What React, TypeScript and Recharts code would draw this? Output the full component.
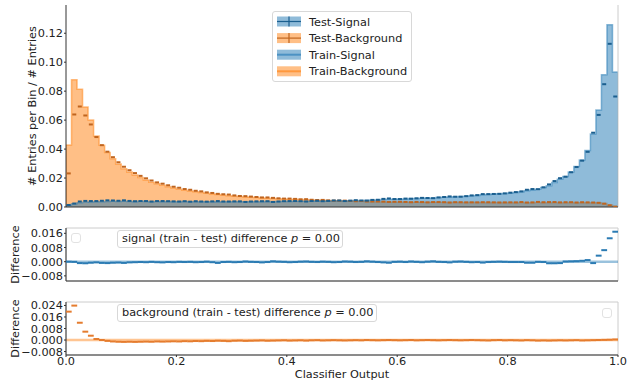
import React from 'react';
import { ComposedChart, Area, Scatter, XAxis, YAxis, ReferenceLine, ReferenceArea } from 'recharts';

// 100 bins on [0, 1], normalised entries per bin
const trainSignal = [
  0.0014, 0.0023, 0.0030, 0.0033, 0.0035, 0.0037, 0.0036, 0.0038, 0.0039, 0.0038,
  0.0039, 0.0038, 0.0037, 0.0039, 0.0038, 0.0037, 0.0038, 0.0037, 0.0038, 0.0036,
  0.0037, 0.0038, 0.0036, 0.0037, 0.0036, 0.0037, 0.0036, 0.0034, 0.0036, 0.0037,
  0.0036, 0.0037, 0.0036, 0.0037, 0.0037, 0.0036, 0.0038, 0.0037, 0.0038, 0.0039,
  0.0038, 0.0039, 0.0040, 0.0039, 0.0040, 0.0041, 0.0040, 0.0041, 0.0042, 0.0043,
  0.0042, 0.0044, 0.0045, 0.0044, 0.0046, 0.0049, 0.0048, 0.0052, 0.0053, 0.0054,
  0.0055, 0.0056, 0.0058, 0.0059, 0.0060, 0.0062, 0.0063, 0.0065, 0.0067, 0.0069,
  0.0071, 0.0072, 0.0074, 0.0077, 0.0080, 0.0084, 0.0087, 0.0089, 0.0091, 0.0093,
  0.0097, 0.0101, 0.0106, 0.0113, 0.0118, 0.0122, 0.0134, 0.0147, 0.0170, 0.0191,
  0.0210, 0.0242, 0.0279, 0.0325, 0.0390, 0.0505, 0.0670, 0.0913, 0.1259, 0.0932,
];

const trainBackground = [
  0.0429, 0.0878, 0.0814, 0.0690, 0.0600, 0.0490, 0.0427, 0.0376, 0.0334, 0.0297,
  0.0265, 0.0242, 0.0221, 0.0203, 0.0187, 0.0171, 0.0160, 0.0150, 0.0140, 0.0131,
  0.0123, 0.0116, 0.0110, 0.0105, 0.0100, 0.0095, 0.0090, 0.0086, 0.0082, 0.0078,
  0.0075, 0.0072, 0.0069, 0.0067, 0.0065, 0.0063, 0.0061, 0.0059, 0.0057, 0.0056,
  0.0054, 0.0053, 0.0051, 0.0050, 0.0048, 0.0047, 0.0046, 0.0044, 0.0043, 0.0042,
  0.0041, 0.0040, 0.0039, 0.0039, 0.0038, 0.0037, 0.0036, 0.0036, 0.0035, 0.0035,
  0.0034, 0.0034, 0.0033, 0.0033, 0.0033, 0.0032, 0.0033, 0.0032, 0.0032, 0.0031,
  0.0032, 0.0031, 0.0031, 0.0032, 0.0031, 0.0031, 0.0030, 0.0031, 0.0031, 0.0030,
  0.0031, 0.0030, 0.0031, 0.0030, 0.0030, 0.0031, 0.0030, 0.0030, 0.0031, 0.0030,
  0.0030, 0.0031, 0.0030, 0.0030, 0.0030, 0.0030, 0.0029, 0.0024, 0.0014, 0.0006,
];

// train - test, per bin
const signalDiff = [
  0.0000, -0.0001, -0.0008, -0.0009, -0.0006, -0.0004, -0.0007, -0.0008, -0.0006, -0.0005,
  -0.0007, -0.0004, -0.0003, -0.0002, -0.0003, -0.0001, -0.0003, -0.0004, -0.0002, -0.0003,
  -0.0001, -0.0002, -0.0001, -0.0003, -0.0002, 0.0000, -0.0003, -0.0007, -0.0002, -0.0001,
  -0.0003, -0.0002, 0.0001, -0.0001, -0.0002, -0.0004, -0.0002, 0.0002, 0.0000, -0.0001,
  -0.0003, -0.0002, 0.0000, 0.0001, -0.0001, -0.0002, 0.0000, -0.0001, -0.0003, -0.0002,
  0.0001, 0.0000, -0.0002, -0.0001, 0.0002, 0.0000, -0.0002, -0.0004, -0.0006, -0.0001,
  0.0000, -0.0002, 0.0001, -0.0001, -0.0003, 0.0000, 0.0002, -0.0001, -0.0002, -0.0004,
  0.0000, 0.0001, -0.0001, -0.0003, -0.0002, -0.0005, -0.0002, -0.0001, 0.0000, -0.0001,
  -0.0002, -0.0002, -0.0002, -0.0006, -0.0006, -0.0001, -0.0002, -0.0009, -0.0009, -0.0008,
  0.0001, 0.0002, 0.0003, 0.0005, 0.0009, -0.0008, 0.0034, 0.0065, 0.0132, 0.0169,
];

const backgroundDiff = [
  0.0197, 0.0239, 0.0120, 0.0058, 0.0030, 0.0007, 0.0000, -0.0006, -0.0010, -0.0012,
  -0.0013, -0.0012, -0.0013, -0.0012, -0.0011, -0.0012, -0.0010, -0.0011, -0.0010, -0.0009,
  -0.0010, -0.0008, -0.0009, -0.0007, -0.0008, -0.0006, -0.0007, -0.0005, -0.0006, -0.0008,
  -0.0005, -0.0004, -0.0006, -0.0005, -0.0004, -0.0003, -0.0005, -0.0004, -0.0003, -0.0002,
  -0.0004, -0.0003, -0.0002, -0.0004, -0.0002, -0.0001, -0.0003, -0.0002, -0.0001, -0.0002,
  -0.0003, -0.0002, -0.0001, -0.0002, 0.0000, -0.0001, -0.0002, -0.0001, 0.0000, -0.0001,
  -0.0002, -0.0001, 0.0000, -0.0002, -0.0001, 0.0000, -0.0001, -0.0002, -0.0001, 0.0000,
  -0.0001, -0.0002, -0.0001, 0.0000, -0.0001, -0.0002, -0.0003, -0.0001, 0.0000, -0.0002,
  -0.0001, -0.0002, -0.0003, -0.0001, -0.0002, -0.0004, -0.0003, -0.0004, -0.0003, -0.0002,
  -0.0003, -0.0002, -0.0001, -0.0003, -0.0002, -0.0001, 0.0000, 0.0001, 0.0002, 0.0004,
];

const histTicks = [0, 0.02, 0.04, 0.06, 0.08, 0.1, 0.12];
const sigDiffTicks = [-0.008, 0, 0.008, 0.016];
const bkgDiffTicks = [-0.008, 0, 0.008, 0.016, 0.024];
const xTicks = [0, 0.2, 0.4, 0.6, 0.8, 1.0];
const legendItems = ['Test-Signal', 'Test-Background', 'Train-Signal', 'Train-Background'];

const NBINS = trainSignal.length;
const BLUE = '#1f77b4';
const ORANGE = '#ff7f0e';
const FONT = '"DejaVu Sans", sans-serif';
const TXT = '#222';
const SPINE = '#333';
const FS = 11.3;
const BIN_PX = 552 / NBINS;

// bin edges for step areas, closed down to zero at both ends
const histRows = [
  { x: 0, sig: 0, bkg: 0 },
  ...trainSignal.map((s, i) => ({ x: i / NBINS, sig: s, bkg: trainBackground[i] })),
  { x: 1, sig: trainSignal[NBINS - 1], bkg: trainBackground[NBINS - 1] },
  { x: 1, sig: 0, bkg: 0 },
];

const testSigPts = trainSignal.map((s, i) => ({ x: (i + 0.5) / NBINS, y: s - signalDiff[i] }));
const testBkgPts = trainBackground.map((b, i) => ({ x: (i + 0.5) / NBINS, y: b - backgroundDiff[i] }));
const sigDiffPts = signalDiff.map((d, i) => ({ x: (i + 0.5) / NBINS, y: d }));
const bkgDiffPts = backgroundDiff.map((d, i) => ({ x: (i + 0.5) / NBINS, y: d }));

const fmt = (digits: number) => (v: number) =>
  (v < -1e-9 ? '\u2212' : '') + Math.abs(v).toFixed(digits);

const tickStyle = { fontSize: FS, fill: TXT, fontFamily: FONT };

const dash = (color: string, w: number) => (props: any) => {
  const { cx, cy } = props;
  if (cx == null || cy == null) return <g />;
  return <rect x={cx - w / 2} y={cy - 1} width={w} height={2} fill={color} />;
};

const boxStyle: React.CSSProperties = {
  position: 'absolute',
  background: 'rgba(255,255,255,0.85)',
  border: '1px solid #d8d8d8',
  borderRadius: 3,
  boxSizing: 'border-box',
  fontFamily: FONT,
  fontSize: FS,
  color: TXT,
  whiteSpace: 'nowrap',
};

const TopLegend = () => (
  <div style={{ ...boxStyle, left: 272, top: 11, width: 140, height: 71 }}>
    <svg width={138} height={69} style={{ position: 'absolute', left: 0, top: 0 }}>
      {legendItems.map((name, i) => {
        const cy = 9.5 + i * 16.6;
        const c = i % 2 === 0 ? BLUE : ORANGE;
        const isTest = i < 2;
        return (
          <g key={name}>
            <rect x={4} y={cy - 5} width={24} height={10} fill={c} fillOpacity={0.5} />
            {isTest ? (
              <g stroke={i === 0 ? '#1b5f8f' : '#c0651f'} strokeWidth={1.2}>
                <line x1={4} x2={28} y1={cy} y2={cy} />
                <line x1={16} x2={16} y1={cy - 5} y2={cy + 5} />
              </g>
            ) : (
              <line x1={4} x2={28} y1={cy} y2={cy} stroke={c} strokeOpacity={0.6} strokeWidth={2} />
            )}
            <text x={36} y={cy + 4} fontSize={FS} fill={TXT} fontFamily={FONT}>{name}</text>
          </g>
        );
      })}
    </svg>
  </div>
);

const DiffLegend = ({ left, top, width, label }: { left: number; top: number; width: number; label: string }) => (
  <div style={{ ...boxStyle, left, top, width, height: 18, lineHeight: '16px', paddingLeft: 4 }}>
    {label} difference <i>p</i> = 0.00
  </div>
);

const EmptyBox = ({ left, top }: { left: number; top: number }) => (
  <div style={{ ...boxStyle, left, top, width: 10, height: 10, border: '1px solid #e2e2e2' }} />
);

export default function App() {
  return (
    <div style={{ position: 'absolute', left: 0, top: 0, width: 628, height: 380, background: '#fff', fontFamily: FONT }}>
      {/* main histogram */}
      <div style={{ position: 'absolute', left: 0, top: 0 }}>
        <ComposedChart width={628} height={216} data={histRows} margin={{ top: 5, right: 10, bottom: 0, left: 0 }}>
          <XAxis
            type="number"
            dataKey="x"
            domain={[0, 1]}
            ticks={xTicks}
            interval={0}
            tick={false}
            height={9}
            tickSize={3}
            axisLine={{ stroke: SPINE }}
            tickLine={{ stroke: SPINE }}
            allowDataOverflow
          />
          <YAxis
            type="number"
            domain={[0, 0.1395]}
            ticks={histTicks}
            interval={0}
            tickFormatter={fmt(2)}
            width={66}
            tickSize={2}
            tickMargin={1}
            tick={tickStyle}
            axisLine={{ stroke: SPINE }}
            tickLine={{ stroke: SPINE }}
            allowDataOverflow
            label={{
              value: '# Entries per Bin / # Entries',
              angle: -90,
              position: 'insideLeft',
              offset: 32,
              style: { textAnchor: 'middle', fontSize: FS, fill: TXT, fontFamily: FONT },
            }}
          />
          <ReferenceLine x={1} stroke="#cccccc" strokeWidth={1} />
          <Area
            type="stepAfter"
            dataKey="bkg"
            fill={ORANGE}
            fillOpacity={0.5}
            stroke={ORANGE}
            strokeOpacity={0.5}
            strokeWidth={1.5}
            dot={false}
            activeDot={false}
            isAnimationActive={false}
          />
          <Area
            type="stepAfter"
            dataKey="sig"
            fill={BLUE}
            fillOpacity={0.5}
            stroke={BLUE}
            strokeOpacity={0.5}
            strokeWidth={1.5}
            dot={false}
            activeDot={false}
            isAnimationActive={false}
          />
          <Scatter data={testBkgPts} dataKey="y" shape={dash('#c0651f', 4)} isAnimationActive={false} />
          <Scatter data={testSigPts} dataKey="y" shape={dash('#1b5f8f', 4)} isAnimationActive={false} />
        </ComposedChart>
      </div>
      <TopLegend />

      {/* signal difference */}
      <div style={{ position: 'absolute', left: 0, top: 223 }}>
        <ComposedChart width={628} height={62} margin={{ top: 5, right: 10, bottom: 0, left: 0 }}>
          <XAxis
            type="number"
            dataKey="x"
            domain={[0, 1]}
            ticks={xTicks}
            interval={0}
            tick={false}
            height={4}
            tickSize={3}
            axisLine={{ stroke: SPINE }}
            tickLine={{ stroke: SPINE }}
            allowDataOverflow
          />
          <YAxis
            type="number"
            domain={[-0.0109, 0.019]}
            ticks={sigDiffTicks}
            interval={0}
            tickFormatter={fmt(3)}
            width={66}
            tickSize={2}
            tickMargin={1}
            tick={tickStyle}
            axisLine={{ stroke: SPINE }}
            tickLine={{ stroke: SPINE }}
            allowDataOverflow
            label={{
              value: 'Difference',
              angle: -90,
              position: 'insideLeft',
              offset: 15,
              style: { textAnchor: 'middle', fontSize: FS, fill: TXT, fontFamily: FONT },
            }}
          />
          <ReferenceArea x1={0} x2={1} y1={-0.0109} y2={0.019} fill="none" stroke="#cccccc" />
          <ReferenceLine y={0} stroke={BLUE} strokeOpacity={0.45} strokeWidth={2.5} />
          <Scatter data={sigDiffPts} dataKey="y" shape={dash('#2b7bb3', BIN_PX + 0.3)} isAnimationActive={false} />
        </ComposedChart>
      </div>
      <EmptyBox left={71} top={233} />
      <DiffLegend left={117} top={230} width={226} label="signal (train - test)" />

      {/* background difference */}
      <div style={{ position: 'absolute', left: 0, top: 297 }}>
        <ComposedChart width={628} height={83} margin={{ top: 5, right: 10, bottom: 0, left: 0 }}>
          <XAxis
            type="number"
            dataKey="x"
            domain={[0, 1]}
            ticks={xTicks}
            interval={0}
            tickFormatter={(v: number) => v.toFixed(1)}
            height={25}
            tickSize={2}
            tickMargin={0}
            tick={tickStyle}
            axisLine={{ stroke: SPINE }}
            tickLine={{ stroke: SPINE }}
            allowDataOverflow
            label={{
              value: 'Classifier Output',
              position: 'insideBottom',
              offset: 2,
              style: { fontSize: FS, fill: TXT, fontFamily: FONT },
            }}
          />
          <YAxis
            type="number"
            domain={[-0.0104, 0.0264]}
            ticks={bkgDiffTicks}
            interval={0}
            tickFormatter={fmt(3)}
            width={66}
            tickSize={2}
            tickMargin={1}
            tick={tickStyle}
            axisLine={{ stroke: SPINE }}
            tickLine={{ stroke: SPINE }}
            allowDataOverflow
            label={{
              value: 'Difference',
              angle: -90,
              position: 'insideLeft',
              offset: 15,
              style: { textAnchor: 'middle', fontSize: FS, fill: TXT, fontFamily: FONT },
            }}
          />
          <ReferenceArea x1={0} x2={1} y1={-0.0104} y2={0.0264} fill="none" stroke="#cccccc" />
          <ReferenceLine y={0} stroke={ORANGE} strokeOpacity={0.45} strokeWidth={2.5} />
          <Scatter data={bkgDiffPts} dataKey="y" shape={dash('#e57c2e', BIN_PX + 0.3)} isAnimationActive={false} />
        </ComposedChart>
      </div>
      <EmptyBox left={602} top={308} />
      <DiffLegend left={117} top={304} width={260} label="background (train - test)" />
    </div>
  );
}
